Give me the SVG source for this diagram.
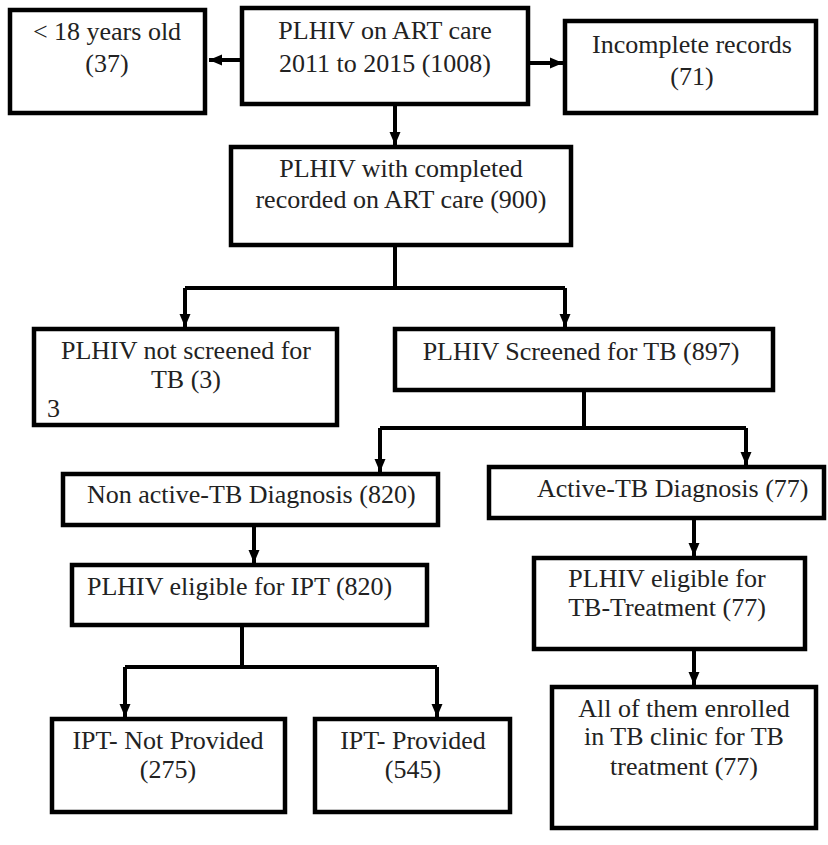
<svg xmlns="http://www.w3.org/2000/svg" width="828" height="845" viewBox="0 0 828 845">
<defs>
<style>
.box{fill:#fff;stroke:#000;stroke-width:4.5}
.t{font-size:26px;fill:#222}
.m{text-anchor:middle}
.c{fill:none;stroke:#000;stroke-width:4}
</style>
<marker id="ah" markerUnits="userSpaceOnUse" markerWidth="14" markerHeight="14" viewBox="0 0 14 14" refX="13" refY="7" orient="auto">
<path d="M0,1.5 L13,7 L0,12.5 Z" fill="#000"/>
</marker>
</defs>
<rect width="828" height="845" fill="#fff"/>
<g id="connectors">
<path class="c" d="M240,60 H209" marker-end="url(#ah)"/>
<path class="c" d="M530,63 H563" marker-end="url(#ah)"/>
<path class="c" d="M395,106 V145" marker-end="url(#ah)"/>
<path class="c" d="M395,247 V288"/>
<path class="c" d="M185,288 H565"/>
<path class="c" d="M185,288 V327" marker-end="url(#ah)"/>
<path class="c" d="M565,288 V327" marker-end="url(#ah)"/>
<path class="c" d="M584,392 V428"/>
<path class="c" d="M380,428 H746"/>
<path class="c" d="M380,428 V472" marker-end="url(#ah)"/>
<path class="c" d="M746,428 V465" marker-end="url(#ah)"/>
<path class="c" d="M254,527 V563" marker-end="url(#ah)"/>
<path class="c" d="M242,627 V667"/>
<path class="c" d="M125,667 H437"/>
<path class="c" d="M125,667 V717" marker-end="url(#ah)"/>
<path class="c" d="M437,667 V717" marker-end="url(#ah)"/>
<path class="c" d="M694,520 V556" marker-end="url(#ah)"/>
<path class="c" d="M694,651 V685" marker-end="url(#ah)"/>
</g>
<g font-family="'Liberation Serif', 'DejaVu Serif', serif">
<g id="under18">
<rect class="box" x="10" y="10" width="195" height="103"/>
<text class="t m" x="107" y="40">&lt; 18 years old</text>
<text class="t m" x="107" y="72">(37)</text>
</g>
<g id="art-care">
<rect class="box" x="242" y="8" width="286" height="96"/>
<text class="t m" x="385" y="39">PLHIV on ART care</text>
<text class="t m" x="385" y="72">2011 to 2015 (1008)</text>
</g>
<g id="incomplete">
<rect class="box" x="565" y="21" width="251" height="92"/>
<text class="t m" x="692" y="53">Incomplete records</text>
<text class="t m" x="692" y="85">(71)</text>
</g>
<g id="completed">
<rect class="box" x="231" y="147" width="340" height="98"/>
<text class="t m" x="401" y="177">PLHIV with completed</text>
<text class="t m" x="401" y="208">recorded on ART care (900)</text>
</g>
<g id="not-screened">
<rect class="box" x="34" y="329" width="303" height="96"/>
<text class="t m" x="186" y="359">PLHIV not screened for</text>
<text class="t m" x="186" y="388">TB (3)</text>
<text class="t" x="47" y="417">3</text>
</g>
<g id="screened">
<rect class="box" x="395" y="329" width="378" height="61"/>
<text class="t m" x="581" y="360">PLHIV Screened for TB (897)</text>
</g>
<g id="non-active">
<rect class="box" x="63" y="474" width="375" height="51"/>
<text class="t" x="87" y="503">Non active-TB Diagnosis (820)</text>
</g>
<g id="active">
<rect class="box" x="489" y="467" width="335" height="51"/>
<text class="t" x="537" y="497">Active-TB Diagnosis (77)</text>
</g>
<g id="eligible-ipt">
<rect class="box" x="72" y="565" width="355" height="60"/>
<text class="t" x="87" y="595">PLHIV eligible for IPT (820)</text>
</g>
<g id="eligible-tb">
<rect class="box" x="534" y="558" width="271" height="91"/>
<text class="t m" x="667" y="587">PLHIV eligible for</text>
<text class="t m" x="667" y="616">TB-Treatment (77)</text>
</g>
<g id="ipt-not">
<rect class="box" x="52" y="719" width="233" height="93"/>
<text class="t m" x="168" y="749">IPT- Not Provided</text>
<text class="t m" x="168" y="778">(275)</text>
</g>
<g id="ipt-yes">
<rect class="box" x="315" y="719" width="195" height="93"/>
<text class="t m" x="413" y="749">IPT- Provided</text>
<text class="t m" x="413" y="778">(545)</text>
</g>
<g id="enrolled">
<rect class="box" x="552" y="687" width="264" height="141"/>
<text class="t m" x="684" y="717">All of them enrolled</text>
<text class="t m" x="684" y="745">in TB clinic for TB</text>
<text class="t m" x="684" y="775">treatment (77)</text>
</g>
</g>
</svg>
